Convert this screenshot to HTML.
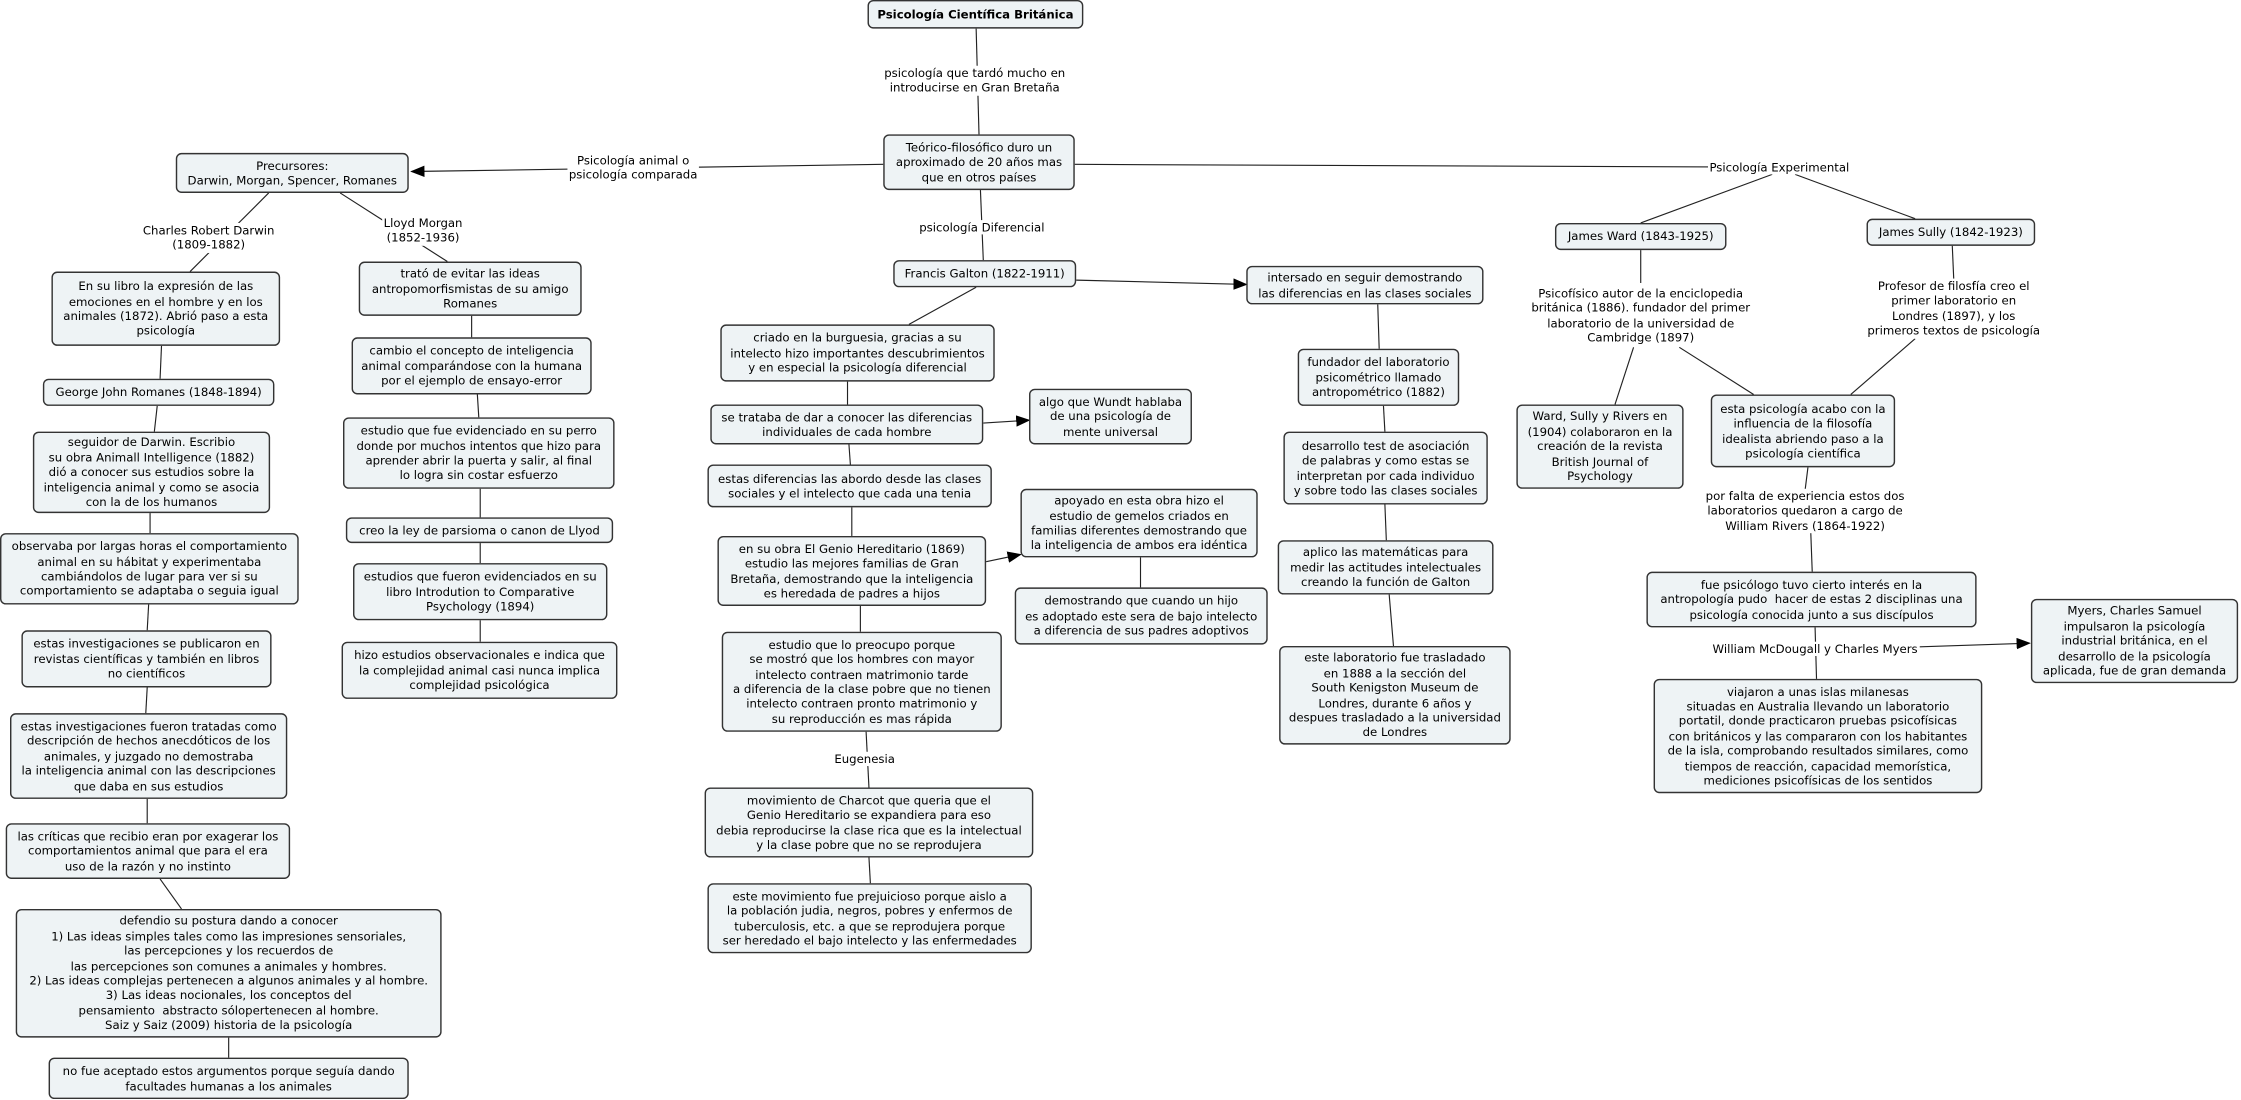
<!DOCTYPE html>
<html><head><meta charset="utf-8"><style>
html,body{margin:0;padding:0;background:#fff;width:2241px;height:1100px;overflow:hidden}
#w{position:absolute;left:0;top:0;width:1568px;height:770px;transform:scale(1.4292);transform-origin:0 0;font-family:"DejaVu Sans","Liberation Sans",sans-serif;font-size:8.2px;line-height:10.4px;color:#000}
.b{position:absolute;box-sizing:border-box;border:0.8px solid #333;border-radius:4px;background:#eef3f5;display:flex;align-items:center;justify-content:center;text-align:center;white-space:nowrap}
.l{position:absolute;transform:translateX(-50%);text-align:center;white-space:nowrap;background:#fff;padding:0 1px}
svg{position:absolute;left:0;top:0}
</style></head><body><div id="w">
<svg width="1568" height="770" viewBox="0 0 1568 770">
<defs><marker id="a" markerWidth="10" markerHeight="8" refX="9" refY="4" orient="auto" markerUnits="userSpaceOnUse"><path d="M0,0 L10,4 L0,8 z" fill="#000"/></marker></defs>
<g stroke="#222" stroke-width="0.8" fill="none">
<line x1="683" y1="20" x2="685" y2="94"/>
<line x1="686" y1="133" x2="688" y2="182"/>
<line x1="618" y1="115" x2="288" y2="120" marker-end="url(#a)"/>
<line x1="752" y1="115" x2="1245" y2="117"/>
<line x1="1240" y1="122" x2="1148" y2="156"/>
<line x1="1256" y1="122" x2="1340" y2="153"/>
<line x1="188" y1="135" x2="133" y2="190"/>
<line x1="238" y1="135" x2="313" y2="183"/>
<line x1="113" y1="242" x2="112" y2="265"/>
<line x1="110" y1="284" x2="108" y2="302"/>
<line x1="105" y1="359" x2="105" y2="373"/>
<line x1="104" y1="423" x2="103" y2="441"/>
<line x1="103" y1="481" x2="102" y2="499"/>
<line x1="103" y1="559" x2="103" y2="576"/>
<line x1="112" y1="615" x2="127" y2="636"/>
<line x1="160" y1="726" x2="160" y2="740"/>
<line x1="330" y1="221" x2="330" y2="236"/>
<line x1="334" y1="276" x2="335" y2="292"/>
<line x1="336" y1="342" x2="336" y2="362"/>
<line x1="336" y1="380" x2="336" y2="394"/>
<line x1="336" y1="434" x2="336" y2="449"/>
<line x1="683" y1="201" x2="636" y2="227"/>
<line x1="593" y1="267" x2="593" y2="283"/>
<line x1="594" y1="311" x2="595" y2="325"/>
<line x1="596" y1="355" x2="596" y2="375"/>
<line x1="602" y1="424" x2="602" y2="442"/>
<line x1="606" y1="512" x2="608" y2="551"/>
<line x1="608" y1="600" x2="609" y2="618"/>
<line x1="688" y1="296" x2="720" y2="294" marker-end="url(#a)"/>
<line x1="690" y1="393" x2="714" y2="388" marker-end="url(#a)"/>
<line x1="798" y1="390" x2="798" y2="411"/>
<line x1="753" y1="196" x2="872" y2="199" marker-end="url(#a)"/>
<line x1="964" y1="213" x2="965" y2="244"/>
<line x1="968" y1="284" x2="969" y2="302"/>
<line x1="969" y1="353" x2="970" y2="378"/>
<line x1="972" y1="416" x2="975" y2="452"/>
<line x1="1148" y1="175" x2="1148" y2="198"/>
<line x1="1143" y1="243" x2="1130" y2="283"/>
<line x1="1175" y1="243" x2="1227" y2="276"/>
<line x1="1366" y1="172" x2="1367" y2="195"/>
<line x1="1340" y1="237" x2="1295" y2="276"/>
<line x1="1265" y1="327" x2="1263" y2="343"/>
<line x1="1267" y1="373" x2="1268" y2="400"/>
<line x1="1270" y1="439" x2="1271" y2="475"/>
<line x1="1300" y1="454" x2="1420" y2="450" marker-end="url(#a)"/>
</g></svg>

<div class="b" style="left:607px;top:0;width:151px;height:20px;font-weight:bold">Psicología Científica Británica</div>
<div class="l" style="left:682px;top:46px">psicología que tardó mucho en<br>introducirse en Gran Bretaña</div>
<div class="b" style="left:618px;top:94px;width:134px;height:39px">Teórico-filosófico duro un<br>aproximado de 20 años mas<br>que en otros países</div>
<div class="l" style="left:443px;top:107px">Psicología animal o<br>psicología comparada</div>
<div class="b" style="left:123px;top:107px;width:163px;height:28px">Precursores:<br>Darwin, Morgan, Spencer, Romanes</div>
<div class="l" style="left:687px;top:154px">psicología Diferencial</div>
<div class="b" style="left:625px;top:182px;width:128px;height:19px">Francis Galton (1822-1911)</div>
<div class="l" style="left:1245px;top:112px">Psicología Experimental</div>
<div class="b" style="left:1088px;top:156px;width:120px;height:19px">James Ward (1843-1925)</div>
<div class="b" style="left:1306px;top:153px;width:118px;height:19px">James Sully (1842-1923)</div>

<div class="l" style="left:146px;top:156px">Charles Robert Darwin<br>(1809-1882)</div>
<div class="l" style="left:296px;top:151px">Lloyd Morgan<br>(1852-1936)</div>

<div class="b" style="left:36px;top:190px;width:160px;height:52px">En su libro la expresión de las<br>emociones en el hombre y en los<br>animales (1872). Abrió paso a esta<br>psicología</div>
<div class="b" style="left:30px;top:265px;width:162px;height:19px">George John Romanes (1848-1894)</div>
<div class="b" style="left:23px;top:302px;width:166px;height:57px">seguidor de Darwin. Escribio<br>su obra Animall Intelligence (1882)<br>dió a conocer sus estudios sobre la<br>inteligencia animal y como se asocia<br>con la de los humanos</div>
<div class="b" style="left:0;top:373px;width:209px;height:50px">observaba por largas horas el comportamiento<br>animal en su hábitat y experimentaba<br>cambiándolos de lugar para ver si su<br>comportamiento se adaptaba o seguia igual</div>
<div class="b" style="left:15px;top:441px;width:175px;height:40px">estas investigaciones se publicaron en<br>revistas científicas y también en libros<br>no científicos</div>
<div class="b" style="left:7px;top:499px;width:194px;height:60px">estas investigaciones fueron tratadas como<br>descripción de hechos anecdóticos de los<br>animales, y juzgado no demostraba<br>la inteligencia animal con las descripciones<br>que daba en sus estudios</div>
<div class="b" style="left:4px;top:576px;width:199px;height:39px">las críticas que recibio eran por exagerar los<br>comportamientos animal que para el era<br>uso de la razón y no instinto</div>
<div class="b" style="left:11px;top:636px;width:298px;height:90px">defendio su postura dando a conocer<br>1) Las ideas simples tales como las impresiones sensoriales,<br>las percepciones y los recuerdos de<br>las percepciones son comunes a animales y hombres.<br>2) Las ideas complejas pertenecen a algunos animales y al hombre.<br>3) Las ideas nocionales, los conceptos del<br>pensamiento&nbsp; abstracto sólopertenecen al hombre.<br>Saiz y Saiz (2009) historia de la psicología</div>
<div class="b" style="left:34px;top:740px;width:252px;height:29px">no fue aceptado estos argumentos porque seguía dando<br>facultades humanas a los animales</div>

<div class="b" style="left:251px;top:183px;width:156px;height:38px">trató de evitar las ideas<br>antropomorfismistas de su amigo<br>Romanes</div>
<div class="b" style="left:246px;top:236px;width:168px;height:40px">cambio el concepto de inteligencia<br>animal comparándose con la humana<br>por el ejemplo de ensayo-error</div>
<div class="b" style="left:240px;top:292px;width:190px;height:50px">estudio que fue evidenciado en su perro<br>donde por muchos intentos que hizo para<br>aprender abrir la puerta y salir, al final<br>lo logra sin costar esfuerzo</div>
<div class="b" style="left:242px;top:362px;width:187px;height:18px">creo la ley de parsioma o canon de Llyod</div>
<div class="b" style="left:247px;top:394px;width:178px;height:40px">estudios que fueron evidenciados en su<br>libro Introdution to Comparative<br>Psychology (1894)</div>
<div class="b" style="left:239px;top:449px;width:193px;height:40px">hizo estudios observacionales e indica que<br>la complejidad animal casi nunca implica<br>complejidad psicológica</div>

<div class="b" style="left:504px;top:227px;width:192px;height:40px">criado en la burguesia, gracias a su<br>intelecto hizo importantes descubrimientos<br>y en especial la psicología diferencial</div>
<div class="b" style="left:497px;top:283px;width:191px;height:28px">se trataba de dar a conocer las diferencias<br>individuales de cada hombre</div>
<div class="b" style="left:720px;top:272px;width:114px;height:39px">algo que Wundt hablaba<br>de una psicología de<br>mente universal</div>
<div class="b" style="left:495px;top:325px;width:199px;height:30px">estas diferencias las abordo desde las clases<br>sociales y el intelecto que cada una tenia</div>
<div class="b" style="left:502px;top:375px;width:188px;height:49px">en su obra El Genio Hereditario (1869)<br>estudio las mejores familias de Gran<br>Bretaña, demostrando que la inteligencia<br>es heredada de padres a hijos</div>
<div class="b" style="left:714px;top:342px;width:166px;height:48px">apoyado en esta obra hizo el<br>estudio de gemelos criados en<br>familias diferentes demostrando que<br>la inteligencia de ambos era idéntica</div>
<div class="b" style="left:710px;top:411px;width:177px;height:40px">demostrando que cuando un hijo<br>es adoptado este sera de bajo intelecto<br>a diferencia de sus padres adoptivos</div>
<div class="b" style="left:505px;top:442px;width:196px;height:70px">estudio que lo preocupo porque<br>se mostró que los hombres con mayor<br>intelecto contraen matrimonio tarde<br>a diferencia de la clase pobre que no tienen<br>intelecto contraen pronto matrimonio y<br>su reproducción es mas rápida</div>
<div class="l" style="left:605px;top:526px">Eugenesia</div>
<div class="b" style="left:493px;top:551px;width:230px;height:49px">movimiento de Charcot que queria que el<br>Genio Hereditario se expandiera para eso<br>debia reproducirse la clase rica que es la intelectual<br>y la clase pobre que no se reprodujera</div>
<div class="b" style="left:495px;top:618px;width:227px;height:49px">este movimiento fue prejuicioso porque aislo a<br>la población judia, negros, pobres y enfermos de<br>tuberculosis, etc. a que se reprodujera porque<br>ser heredado el bajo intelecto y las enfermedades</div>

<div class="b" style="left:872px;top:186px;width:166px;height:27px">intersado en seguir demostrando<br>las diferencias en las clases sociales</div>
<div class="b" style="left:908px;top:244px;width:113px;height:40px">fundador del laboratorio<br>psicométrico llamado<br>antropométrico (1882)</div>
<div class="b" style="left:898px;top:302px;width:143px;height:51px">desarrollo test de asociación<br>de palabras y como estas se<br>interpretan por cada individuo<br>y sobre todo las clases sociales</div>
<div class="b" style="left:894px;top:378px;width:151px;height:38px">aplico las matemáticas para<br>medir las actitudes intelectuales<br>creando la función de Galton</div>
<div class="b" style="left:895px;top:452px;width:162px;height:69px">este laboratorio fue trasladado<br>en 1888 a la sección del<br>South Kenigston Museum de<br>Londres, durante 6 años y<br>despues trasladado a la universidad<br>de Londres</div>

<div class="l" style="left:1148px;top:200px">Psicofísico autor de la enciclopedia<br>británica (1886). fundador del primer<br>laboratorio de la universidad de<br>Cambridge (1897)</div>
<div class="l" style="left:1367px;top:195px">Profesor de filosfía creo el<br>primer laboratorio en<br>Londres (1897), y los<br>primeros textos de psicología</div>
<div class="b" style="left:1061px;top:283px;width:117px;height:59px">Ward, Sully y Rivers en<br>(1904) colaboraron en la<br>creación de la revista<br>British Journal of<br>Psychology</div>
<div class="b" style="left:1197px;top:276px;width:129px;height:51px">esta psicología acabo con la<br>influencia de la filosofía<br>idealista abriendo paso a la<br>psicología científica</div>
<div class="l" style="left:1263px;top:342px">por falta de experiencia estos dos<br>laboratorios quedaron a cargo de<br>William Rivers (1864-1922)</div>
<div class="b" style="left:1152px;top:400px;width:231px;height:39px">fue psicólogo tuvo cierto interés en la<br>antropología pudo&nbsp; hacer de estas 2 disciplinas una<br>psicología conocida junto a sus discípulos</div>
<div class="l" style="left:1270px;top:449px">William McDougall y Charles Myers</div>
<div class="b" style="left:1421px;top:419px;width:145px;height:59px">Myers, Charles Samuel<br>impulsaron la psicología<br>industrial británica, en el<br>desarrollo de la psicología<br>aplicada, fue de gran demanda</div>
<div class="b" style="left:1157px;top:475px;width:230px;height:80px">viajaron a unas islas milanesas<br>situadas en Australia llevando un laboratorio<br>portatil, donde practicaron pruebas psicofísicas<br>con británicos y las compararon con los habitantes<br>de la isla, comprobando resultados similares, como<br>tiempos de reacción, capacidad memorística,<br>mediciones psicofísicas de los sentidos</div>
</div></body></html>
